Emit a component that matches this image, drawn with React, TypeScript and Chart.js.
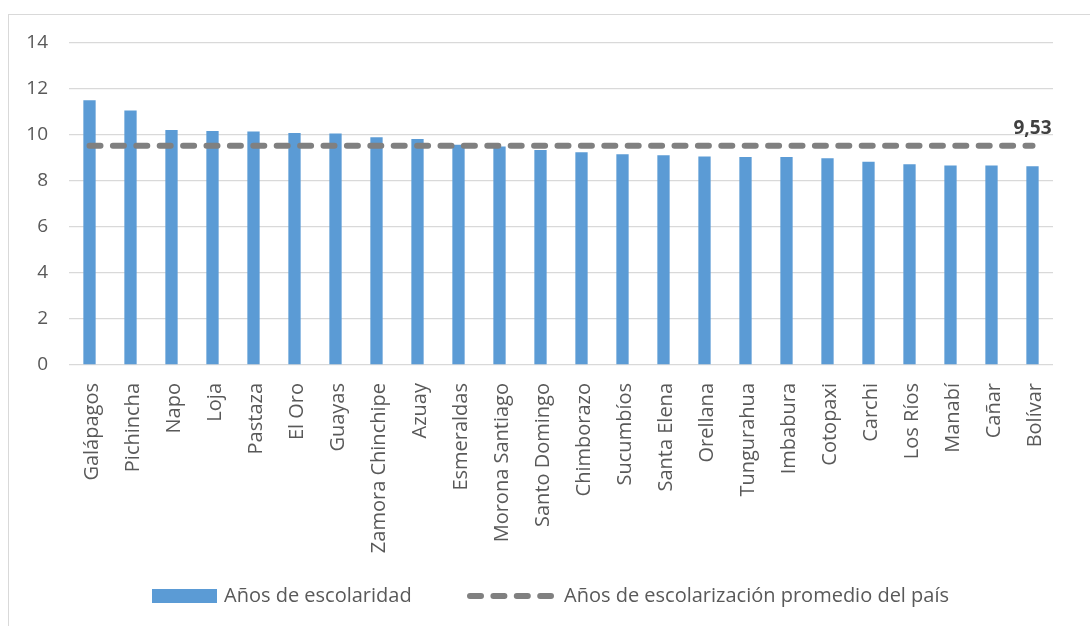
import React, { useEffect, useRef } from "react";
import { Chart, registerables } from "chart.js";

Chart.register(...registerables);

const provinces = [
  "Galápagos", "Pichincha", "Napo", "Loja", "Pastaza", "El Oro", "Guayas",
  "Zamora Chinchipe", "Azuay", "Esmeraldas", "Morona Santiago", "Santo Domingo",
  "Chimborazo", "Sucumbíos", "Santa Elena", "Orellana", "Tungurahua", "Imbabura",
  "Cotopaxi", "Carchi", "Los Ríos", "Manabí", "Cañar", "Bolívar",
];

const yearsOfSchooling = [
  11.51, 11.06, 10.22, 10.17, 10.15, 10.09, 10.07, 9.9, 9.83, 9.58, 9.5, 9.35,
  9.25, 9.16, 9.12, 9.07, 9.04, 9.04, 8.99, 8.84, 8.73, 8.67, 8.67, 8.64,
];

const nationalAverage = [
  9.53, 9.53, 9.53, 9.53, 9.53, 9.53, 9.53, 9.53, 9.53, 9.53, 9.53, 9.53,
  9.53, 9.53, 9.53, 9.53, 9.53, 9.53, 9.53, 9.53, 9.53, 9.53, 9.53, 9.53,
];

const yTicks = [0, 2, 4, 6, 8, 10, 12, 14];

const seriesNames = ["Años de escolaridad", "Años de escolarización promedio del país"];
const averageLabel = "9,53";

const FONT = "'Open Sans', 'DejaVu Sans', sans-serif";
const TEXT = "#595959";

const averageLabelPlugin = {
  id: "averageLabel",
  afterDatasetsDraw(chart: any) {
    const idx = chart.data.datasets.findIndex((d: any) => d.type === "line");
    const meta = chart.getDatasetMeta(idx);
    const pt = meta.data[meta.data.length - 1];
    if (!pt) return;
    const ctx = chart.ctx;
    ctx.save();
    ctx.font = `bold 19px ${FONT}`;
    ctx.fillStyle = "#404040";
    ctx.textAlign = "center";
    ctx.textBaseline = "bottom";
    ctx.fillText(averageLabel, pt.x, pt.y - 8);
    ctx.restore();
  },
};

const customLegendPlugin = {
  id: "customLegend",
  afterDraw(chart: any) {
    const ctx = chart.ctx;
    const bar = chart.data.datasets.find((d: any) => d.type === "bar");
    const line = chart.data.datasets.find((d: any) => d.type === "line");
    const cy = 596;
    ctx.save();
    ctx.font = `20px ${FONT}`;
    ctx.fillStyle = TEXT;
    ctx.textBaseline = "middle";
    ctx.textAlign = "left";
    ctx.fillStyle = bar.backgroundColor;
    ctx.fillRect(152, cy - 7, 65, 14);
    ctx.fillStyle = TEXT;
    ctx.fillText(bar.label, 224, cy);
    ctx.strokeStyle = line.borderColor;
    ctx.lineWidth = line.borderWidth;
    ctx.lineCap = "round";
    ctx.setLineDash(line.borderDash);
    ctx.beginPath();
    ctx.moveTo(470, cy);
    ctx.lineTo(551, cy);
    ctx.stroke();
    ctx.setLineDash([]);
    ctx.fillText(line.label, 564, cy);
    ctx.restore();
  },
};

export default function App() {
  const canvasRef = useRef<HTMLCanvasElement | null>(null);

  useEffect(() => {
    if (!canvasRef.current) return;
    const chart = new Chart(canvasRef.current, {
      type: "bar",
      data: {
        labels: provinces,
        datasets: [
          {
            type: "line",
            label: seriesNames[1],
            data: nationalAverage,
            borderColor: "#808080",
            backgroundColor: "#808080",
            borderWidth: 6,
            borderDash: [11, 12.4],
            borderCapStyle: "round",
            pointRadius: 0,
            fill: false,
            order: 0,
          } as any,
          {
            type: "bar",
            label: seriesNames[0],
            data: yearsOfSchooling,
            backgroundColor: "#5B9BD5",
            borderWidth: 0,
            barPercentage: 0.3,
            categoryPercentage: 1,
            order: 1,
          } as any,
        ],
      },
      options: {
        animation: false,
        responsive: false,
        maintainAspectRatio: false,
        events: [],
        layout: { padding: { left: 28, right: 37, top: 43, bottom: 60 } },
        plugins: {
          legend: { display: false },
          tooltip: { enabled: false },
        },
        scales: {
          x: {
            offset: true,
            grid: { display: false },
            border: { display: false },
            ticks: {
              color: TEXT,
              font: { family: FONT, size: 20 },
              minRotation: 90,
              maxRotation: 90,
              autoSkip: false,
              padding: 10,
              labelOffset: 3,
            },
            afterFit(scale: any) {
              scale.height = 201;
            },
          },
          y: {
            min: 0,
            max: 14,
            afterBuildTicks(scale: any) {
              scale.ticks = yTicks.map((v) => ({ value: v }));
            },
            grid: { color: "#d9d9d9", lineWidth: 1.3, drawTicks: false },
            border: { display: false },
            ticks: {
              color: TEXT,
              font: { family: FONT, size: 19 },
              padding: 21,
            },
            afterFit(scale: any) {
              scale.width = 41;
            },
          },
        },
      },
      plugins: [averageLabelPlugin, customLegendPlugin],
    });
    return () => chart.destroy();
  }, []);

  return (
    <div style={{ position: "fixed", left: 0, top: 0, width: 1090, height: 626, overflow: "hidden", background: "#fff" }}>
      <canvas ref={canvasRef} width={1090} height={626} style={{ position: "absolute", left: 0, top: 0, width: 1090, height: 626 }} />
      <div
        style={{
          position: "absolute",
          left: 8,
          top: 14,
          width: 1200,
          height: 700,
          borderLeft: "1px solid #d9d9d9",
          borderTop: "1px solid #d9d9d9",
          pointerEvents: "none",
        }}
      />
    </div>
  );
}
